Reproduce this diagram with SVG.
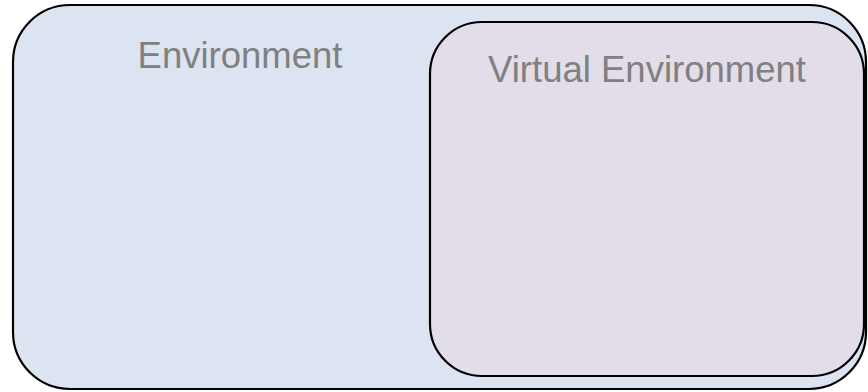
<svg xmlns="http://www.w3.org/2000/svg" width="868" height="392" viewBox="0 0 868 392">
  <style>
    .box { stroke: #000; stroke-width: 2.2; }
    .label { font-family: "Liberation Sans", Arial, sans-serif; font-size: 36.5px; fill: #808080; text-anchor: middle; }
  </style>
  <rect width="868" height="392" fill="#fff"/>
  <g id="environment">
    <rect class="box" x="13" y="5" width="853" height="384" rx="57" ry="57" fill="#dbe4f0"/>
    <text class="label" x="240" y="68">Environment</text>
  </g>
  <g id="virtual-environment">
    <rect class="box" x="430" y="22" width="434" height="354" rx="52" ry="52" fill="#e3dde9"/>
    <text class="label" x="647" y="82">Virtual Environment</text>
  </g>
  <g id="connectors"/>
</svg>
